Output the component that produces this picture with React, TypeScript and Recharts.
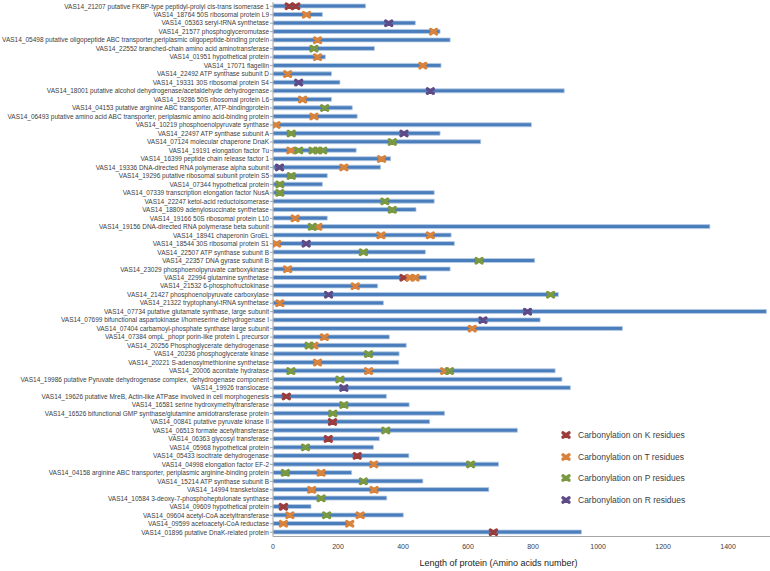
import React from 'react';
import { ComposedChart, Bar, Scatter, XAxis, YAxis, Legend } from 'recharts';

const categories = [
  'VAS14_21207 putative FKBP-type peptidyl-prolyl cis-trans isomerase 1',
  'VAS14_18764 50S ribosomal protein L9',
  'VAS14_05363 seryl-tRNA synthetase',
  'VAS14_21577 phosphoglyceromutase',
  'VAS14_05498 putative oligopeptide ABC transporter,periplasmic oligopeptide-binding protein',
  'VAS14_22552 branched-chain amino acid aminotransferase',
  'VAS14_01951 hypothetical protein',
  'VAS14_17071 flagellin',
  'VAS14_22492 ATP synthase subunit D',
  'VAS14_19331 30S ribosomal protein S4',
  'VAS14_18001 putative alcohol dehydrogenase/acetaldehyde dehydrogenase',
  'VAS14_19286 50S ribosomal protein L6',
  'VAS14_04153 putative arginine ABC transporter, ATP-bindingprotein',
  'VAS14_06493 putative amino acid ABC transporter, periplasmic amino acid-binding protein',
  'VAS14_10219 phosphoenolpyruvate synthase',
  'VAS14_22497 ATP synthase subunit A',
  'VAS14_07124 molecular chaperone DnaK',
  'VAS14_19191 elongation factor Tu',
  'VAS14_16399 peptide chain release factor 1',
  'VAS14_19336 DNA-directed RNA polymerase alpha subunit',
  'VAS14_19296 putative ribosomal subunit protein S5',
  'VAS14_07344 hypothetical protein',
  'VAS14_07339 transcription elongation factor NusA',
  'VAS14_22247 ketol-acid reductoisomerase',
  'VAS14_18809 adenylosuccinate synthetase',
  'VAS14_19166 50S ribosomal protein L10',
  'VAS14_19156 DNA-directed RNA polymerase beta subunit',
  'VAS14_18941 chaperonin GroEL',
  'VAS14_18544 30S ribosomal protein S1',
  'VAS14_22507 ATP synthase subunit B',
  'VAS14_22357 DNA gyrase subunit B',
  'VAS14_23029 phosphoenolpyruvate carboxykinase',
  'VAS14_22994 glutamine synthetase',
  'VAS14_21532 6-phosphofructokinase',
  'VAS14_21427 phosphoenolpyruvate carboxylase',
  'VAS14_21322 tryptophanyl-tRNA synthetase',
  'VAS14_07734 putative glutamate synthase, large subunit',
  'VAS14_07699 bifunctional aspartokinase I/homeserine dehydrogenase I',
  'VAS14_07404 carbamoyl-phosphate synthase large subunit',
  'VAS14_07384 ompL_phopr porin-like protein L precursor',
  'VAS14_20256 Phosphoglycerate dehydrogenase',
  'VAS14_20236 phosphoglycerate kinase',
  'VAS14_20221 S-adenosylmethionine synthetase',
  'VAS14_20006 aconitate hydratase',
  'VAS14_19986 putative Pyruvate dehydrogenase complex, dehydrogenase component',
  'VAS14_19926 translocase',
  'VAS14_19626 putative MreB, Actin-like ATPase involved in cell morphogenesis',
  'VAS14_16581 serine hydroxymethyltransferase',
  'VAS14_16526 bifunctional GMP synthase/glutamine amidotransferase protein',
  'VAS14_00841 putative pyruvate kinase II',
  'VAS14_06513 formate acetyltransferase',
  'VAS14_06363 glycosyl transferase',
  'VAS14_05968 hypothetical protein',
  'VAS14_05433 isocitrate dehydrogenase',
  'VAS14_04998 elongation factor EF-2',
  'VAS14_04158 arginine ABC transporter, periplasmic arginine-binding protein',
  'VAS14_15214 ATP synthase subunit B',
  'VAS14_14994 transketolase',
  'VAS14_10584 3-deoxy-7-phosphoheptulonate synthase',
  'VAS14_09609 hypothetical protein',
  'VAS14_09604 acetyl-CoA acetyltransferase',
  'VAS14_09599 acetoacetyl-CoA reductase',
  'VAS14_01896 putative DnaK-related protein',
];

const proteinLengths = [
  285, 152, 438, 514, 545, 312, 161, 517, 180, 206,
  896, 180, 244, 259, 795, 514, 639, 256, 362, 331,
  167, 152, 496, 496, 440, 167, 1344, 548, 558, 469,
  805, 545, 472, 322, 878, 340, 1518, 822, 1075, 358,
  410, 388, 387, 868, 889, 915, 349, 419, 528, 482,
  752, 327, 309, 418, 694, 242, 461, 664, 350, 117,
  401, 240, 949,
];

// [protein index, residue position]
const kSites: [number, number][] = [
  [0, 50], [0, 70], [32, 403], [46, 41], [49, 183], [51, 170], [53, 259], [59, 32], [62, 678],
];
const tSites: [number, number][] = [
  [1, 103], [3, 494], [4, 137], [6, 137], [7, 461], [8, 45], [11, 91], [13, 126], [14, 9],
  [17, 55], [18, 334], [19, 218], [25, 68], [26, 138], [27, 332], [27, 484], [28, 11],
  [31, 45], [32, 422], [32, 437], [33, 253], [35, 21], [38, 613], [39, 158], [40, 126],
  [42, 137], [43, 294], [43, 528], [54, 310], [55, 148], [57, 119], [57, 311], [60, 52],
  [60, 268], [61, 32], [61, 236],
];
const pSites: [number, number][] = [
  [5, 126], [12, 159], [15, 56], [16, 367], [17, 79], [17, 123], [17, 138], [17, 153],
  [20, 56], [21, 21], [22, 21], [23, 344], [24, 367], [26, 121], [29, 278], [30, 634],
  [34, 854], [40, 111], [41, 294], [43, 55], [43, 543], [44, 206], [47, 218], [48, 184],
  [50, 347], [52, 100], [54, 608], [55, 38], [56, 278], [58, 148], [60, 165],
];
const rSites: [number, number][] = [
  [2, 356], [9, 79], [10, 484], [15, 403], [19, 20], [28, 102], [34, 171], [36, 783],
  [37, 646], [45, 218],
];

const xTicks = [0, 200, 400, 600, 800, 1000, 1200, 1400];
const axisTitle = 'Length of protein (Amino acids number)';

const series = [
  { key: 'K', label: 'Carbonylation on K residues', color: '#9b3b3b', sites: kSites },
  { key: 'T', label: 'Carbonylation on T residues', color: '#d9823b', sites: tSites },
  { key: 'P', label: 'Carbonylation on P residues', color: '#7a983f', sites: pSites },
  { key: 'R', label: 'Carbonylation on R residues', color: '#5e4a86', sites: rSites },
];

const chartData = categories.map((name, i) => ({ name, length: proteinLengths[i] }));
const toPoints = (sites: [number, number][]) =>
  sites.map(([i, pos]) => ({ name: categories[i], pos }));

const FONT = '"Liberation Sans", Arial, sans-serif';

function Cross({ cx, cy, color }: { cx?: number; cy?: number; color: string }) {
  if (cx == null || cy == null || Number.isNaN(cx) || Number.isNaN(cy)) return null;
  const w = 3;
  const h = 2.2;
  return (
    <path
      d={`M${cx - w},${cy - h}L${cx + w},${cy + h}M${cx - w},${cy + h}L${cx + w},${cy - h}`}
      stroke={color}
      strokeWidth={3.4}
      strokeLinecap="round"
      fill="none"
    />
  );
}

function CatTick(props: any) {
  const { x, y, payload } = props;
  return (
    <text x={x} y={y} dy="0.35em" textAnchor="end" fontSize={6.5} fill="#404040" fontFamily={FONT}>
      {payload.value}
    </text>
  );
}

const renderLegend = () => (
  <div style={{ fontFamily: FONT, fontSize: 8.5, color: '#404040' }}>
    {series.map((s) => (
      <div key={s.key} style={{ height: 21.7, display: 'flex', alignItems: 'center' }}>
        <svg width={12} height={10} style={{ display: 'block' }}>
          <Cross cx={6} cy={5} color={s.color} />
        </svg>
        <span style={{ marginLeft: 6, whiteSpace: 'nowrap' }}>{s.label}</span>
      </div>
    ))}
  </div>
);

export default function App() {
  return (
    <div style={{ position: 'absolute', left: 0, top: 0, background: '#fff' }}>
      <ComposedChart
        width={770}
        height={571}
        data={chartData}
        layout="vertical"
        margin={{ top: 2, right: 0, bottom: 0, left: 0 }}
      >
        <XAxis
          type="number"
          domain={[0, 1529]}
          ticks={xTicks}
          allowDataOverflow
          height={34.5}
          tickLine={false}
          tickSize={6}
          tickMargin={2}
          axisLine={{ stroke: '#a6a6a6' }}
          tick={{ fontSize: 7, fill: '#404040', fontFamily: FONT }}
          label={{
            value: axisTitle,
            position: 'insideBottom',
            offset: 5,
            dx: -23,
            fontSize: 9,
            fill: '#222',
            fontFamily: FONT,
          }}
        />
        <YAxis
          type="category"
          dataKey="name"
          width={273}
          interval={0}
          allowDuplicatedCategory={false}
          tickSize={3}
          tickMargin={1}
          tick={<CatTick />}
          axisLine={{ stroke: '#a6a6a6' }}
          tickLine={{ stroke: '#a6a6a6' }}
        />
        <Bar
          dataKey="length"
          barSize={4}
          fill="#4a7dbb"
          stroke="#b9cde6"
          strokeWidth={0.8}
          isAnimationActive={false}
        />
        {series.map((s) => (
          <Scatter
            key={s.key}
            name={s.label}
            data={toPoints(s.sites)}
            dataKey="pos"
            fill={s.color}
            shape={(p: any) => <Cross cx={p.cx} cy={p.cy} color={s.color} />}
            isAnimationActive={false}
          />
        ))}
        <Legend
          layout="vertical"
          align="center"
          verticalAlign="middle"
          wrapperStyle={{ left: 560, top: 424, width: 200 }}
          content={renderLegend}
        />
      </ComposedChart>
    </div>
  );
}
